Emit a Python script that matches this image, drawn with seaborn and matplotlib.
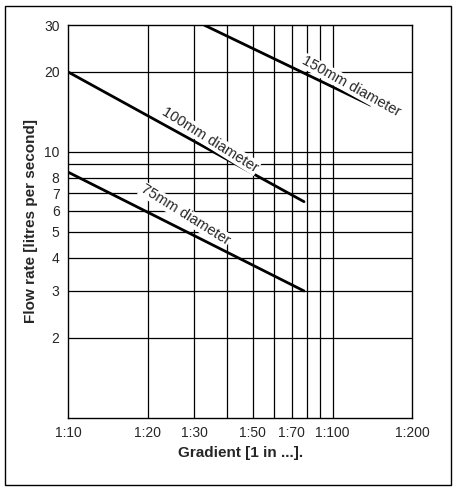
import numpy as np
import matplotlib
matplotlib.use("Agg")
import matplotlib.pyplot as plt
import seaborn as sns
from matplotlib.patches import Rectangle

# pipe flow lines (gradient 1:x, flow l/s)
grad_75 = [10, 78]
flow_75 = [8.4, 3.0]
grad_100 = [10, 78]
flow_100 = [20, 6.5]
grad_150 = [32.7, 139]
flow_150 = [30, 15]

x_ticks = [10, 20, 30, 50, 70, 100, 200]
x_labels = ["1:10", "1:20", "1:30", "1:50", "1:70", "1:100", "1:200"]
x_grid = [20, 30, 40, 50, 60, 70, 80, 90, 100]
y_ticks = [2, 3, 4, 5, 6, 7, 8, 10, 20, 30]
y_grid = [2, 3, 4, 5, 6, 7, 8, 9, 10, 20]

sns.set_style("white")
plt.rcParams['font.family'] = ['Liberation Sans', 'DejaVu Sans']

fig = plt.figure(figsize=(4.56, 4.91), dpi=100)
ax = fig.add_axes([0.149, 0.149, 0.755, 0.80])
ax.set_xscale("log")
ax.set_yscale("log")
ax.set_xlim(10, 200)
ax.set_ylim(1, 30)

for g in x_grid:
    ax.axvline(g, color="black", lw=0.9)
for f in y_grid:
    ax.axhline(f, color="black", lw=0.9)

for gx, fy in [(grad_75, flow_75), (grad_100, flow_100), (grad_150, flow_150)]:
    sns.lineplot(x=gx, y=fy, ax=ax, color="black", lw=2)

box = dict(facecolor="white", edgecolor="none", pad=0.5)
ax.text(27.7, 5.8, "75mm diameter", rotation=-32, fontsize=10.5, ha="center", va="center", bbox=box, zorder=5)
ax.text(34.5, 11.1, "100mm diameter", rotation=-32, fontsize=10.5, ha="center", va="center", bbox=box, zorder=5)
ax.text(118, 17.6, "150mm diameter", rotation=-29, fontsize=10.5, ha="center", va="center", bbox=box, zorder=5)

ax.set_xticks(x_ticks)
ax.set_xticklabels(x_labels)
ax.set_yticks(y_ticks)
ax.set_yticklabels([str(v) for v in y_ticks])
ax.minorticks_off()
ax.tick_params(labelsize=10, length=0, pad=6)
for s in ax.spines.values():
    s.set_color("black")
    s.set_linewidth(1)
ax.set_xlabel("Gradient [1 in ...].", fontsize=11, fontweight="bold")
ax.set_ylabel("Flow rate [litres per second]", fontsize=11, fontweight="bold")

fig.patches.append(Rectangle((0.012, 0.012), 0.976, 0.976, transform=fig.transFigure,
                             fill=False, edgecolor="black", lw=1))
fig.savefig("out.png", dpi=100)
